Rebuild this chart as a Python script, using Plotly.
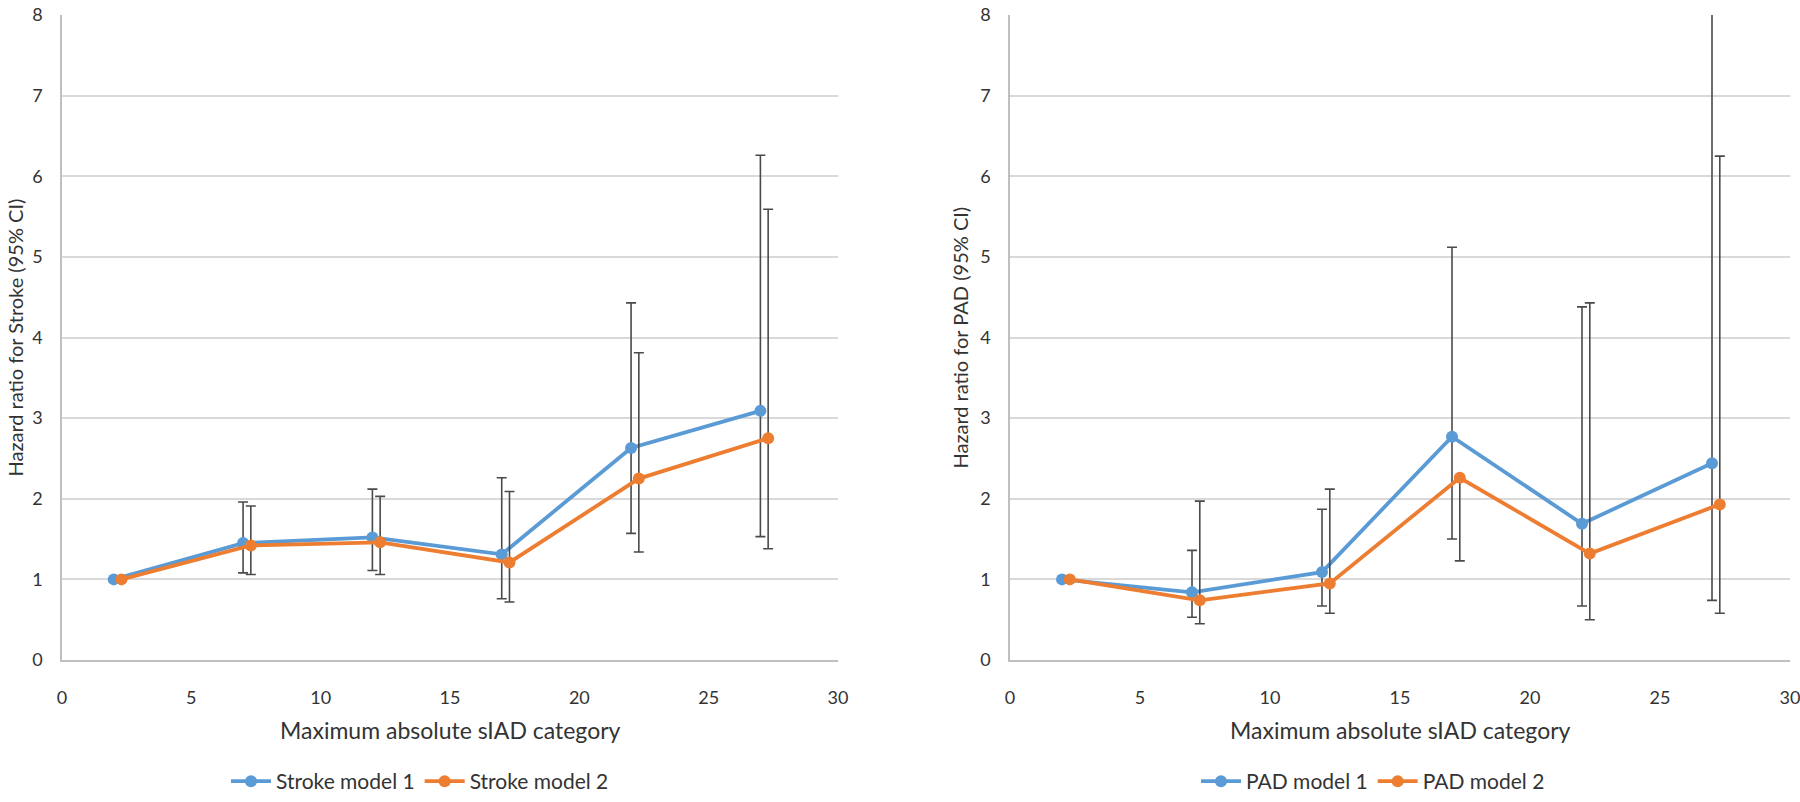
import plotly.graph_objects as go

# ---- data ----
x_model1 = [2, 7, 12, 17, 22, 27]
x_model2 = [2.3, 7.3, 12.3, 17.3, 22.3, 27.3]

stroke_m1 = [1.0, 1.45, 1.52, 1.31, 2.63, 3.09]
stroke_m1_lo = [1.0, 1.08, 1.11, 0.76, 1.57, 1.53]
stroke_m1_hi = [1.0, 1.96, 2.12, 2.26, 4.43, 6.26]
stroke_m2 = [1.0, 1.42, 1.46, 1.21, 2.25, 2.75]
stroke_m2_lo = [1.0, 1.06, 1.06, 0.72, 1.34, 1.38]
stroke_m2_hi = [1.0, 1.91, 2.03, 2.09, 3.81, 5.59]

pad_m1 = [1.0, 0.84, 1.09, 2.77, 1.69, 2.44]
pad_m1_lo = [1.0, 0.53, 0.67, 1.50, 0.67, 0.74]
pad_m1_hi = [1.0, 1.36, 1.87, 5.12, 4.38, 8.60]
pad_m2 = [1.0, 0.74, 0.95, 2.26, 1.32, 1.93]
pad_m2_lo = [1.0, 0.45, 0.58, 1.23, 0.50, 0.58]
pad_m2_hi = [1.0, 1.97, 2.12, 2.26, 4.43, 6.25]

x_ticks = [0, 5, 10, 15, 20, 25, 30]
y_ticks = [0, 1, 2, 3, 4, 5, 6, 7, 8]

BLUE = "#5B9BD5"
ORANGE = "#ED7D31"
ERR = "#4A4A4A"
FONT = "Lato"
TXT = "#333333"


def err(vals, lo, hi):
    return dict(type="data", symmetric=False,
                array=[h - v for v, h in zip(vals, hi)],
                arrayminus=[v - l for v, l in zip(vals, lo)],
                color=ERR, thickness=1.6, width=5)


def trace(x, y, lo, hi, name, color, xa, ya, leg):
    return go.Scatter(x=x, y=y, name=name, mode="lines+markers",
                      line=dict(color=color, width=3.8),
                      marker=dict(color=color, size=12, symbol="circle"),
                      error_y=err(y, lo, hi), xaxis=xa, yaxis=ya, legend=leg)


fig = go.Figure()
fig.add_trace(trace(x_model1, stroke_m1, stroke_m1_lo, stroke_m1_hi, "Stroke model 1", BLUE, "x", "y", "legend"))
fig.add_trace(trace(x_model2, stroke_m2, stroke_m2_lo, stroke_m2_hi, "Stroke model 2", ORANGE, "x", "y", "legend"))
fig.add_trace(trace(x_model1, pad_m1, pad_m1_lo, pad_m1_hi, "PAD model 1", BLUE, "x2", "y2", "legend2"))
fig.add_trace(trace(x_model2, pad_m2, pad_m2_lo, pad_m2_hi, "PAD model 2", ORANGE, "x2", "y2", "legend2"))

W, H = 1800, 802
T, B = 15, 142
dom1 = [62 / W, 838 / W]
dom2 = [1010 / W, 1790 / W]

xcommon = dict(range=[0, 30], tickvals=x_ticks, showgrid=False, zeroline=False,
               showline=True, linecolor="#BFBFBF", linewidth=1.5,
               ticks="", ticklabelstandoff=21, ticklabeloverflow="allow",
               tickfont=dict(family=FONT, size=18, color=TXT))
ycommon = dict(range=[0, 8], tickvals=y_ticks, showgrid=True, gridcolor="#D9D9D9",
               gridwidth=1.5, zeroline=False, showline=True, linecolor="#BFBFBF",
               linewidth=1.5, ticks="", ticklabelstandoff=14, ticklabeloverflow="allow",
               tickfont=dict(family=FONT, size=18, color=TXT))

legcommon = dict(orientation="h", xanchor="center", yref="container", y=-0.004,
                 yanchor="bottom", font=dict(family=FONT, size=21, color=TXT),
                 bgcolor="rgba(0,0,0,0)", itemwidth=40, tracegroupgap=0)

fig.update_layout(
    width=W, height=H,
    margin=dict(l=0, r=0, t=T, b=B, autoexpand=False),
    paper_bgcolor="white", plot_bgcolor="white",
    xaxis=dict(domain=dom1, anchor="y", **xcommon),
    yaxis=dict(domain=[0, 1], anchor="x", **ycommon),
    xaxis2=dict(domain=dom2, anchor="y2", **xcommon),
    yaxis2=dict(domain=[0, 1], anchor="x2", **ycommon),
    legend=dict(x=420 / W, **legcommon),
    legend2=dict(x=1373 / W, **legcommon),
    annotations=[
        dict(text="Maximum absolute sIAD category", xref="paper", yref="paper",
             x=(dom1[0] + dom1[1]) / 2, y=(660 - 730) / 645, xanchor="center", yanchor="middle",
             showarrow=False, font=dict(family=FONT, size=23, color=TXT)),
        dict(text="Maximum absolute sIAD category", xref="paper", yref="paper",
             x=(dom2[0] + dom2[1]) / 2, y=(660 - 730) / 645, xanchor="center", yanchor="middle",
             showarrow=False, font=dict(family=FONT, size=23, color=TXT)),
        dict(text="Hazard ratio for Stroke (95% CI)", xref="paper", yref="paper",
             x=14 / W, y=0.5, xanchor="center", yanchor="middle", textangle=-90,
             showarrow=False, font=dict(family=FONT, size=20, color=TXT)),
        dict(text="Hazard ratio for PAD (95% CI)", xref="paper", yref="paper",
             x=959 / W, y=0.5, xanchor="center", yanchor="middle", textangle=-90,
             showarrow=False, font=dict(family=FONT, size=20, color=TXT)),
    ],
)

fig.write_html("out.html", config={"displayModeBar": False},
               post_script="document.body.style.margin='0';")
